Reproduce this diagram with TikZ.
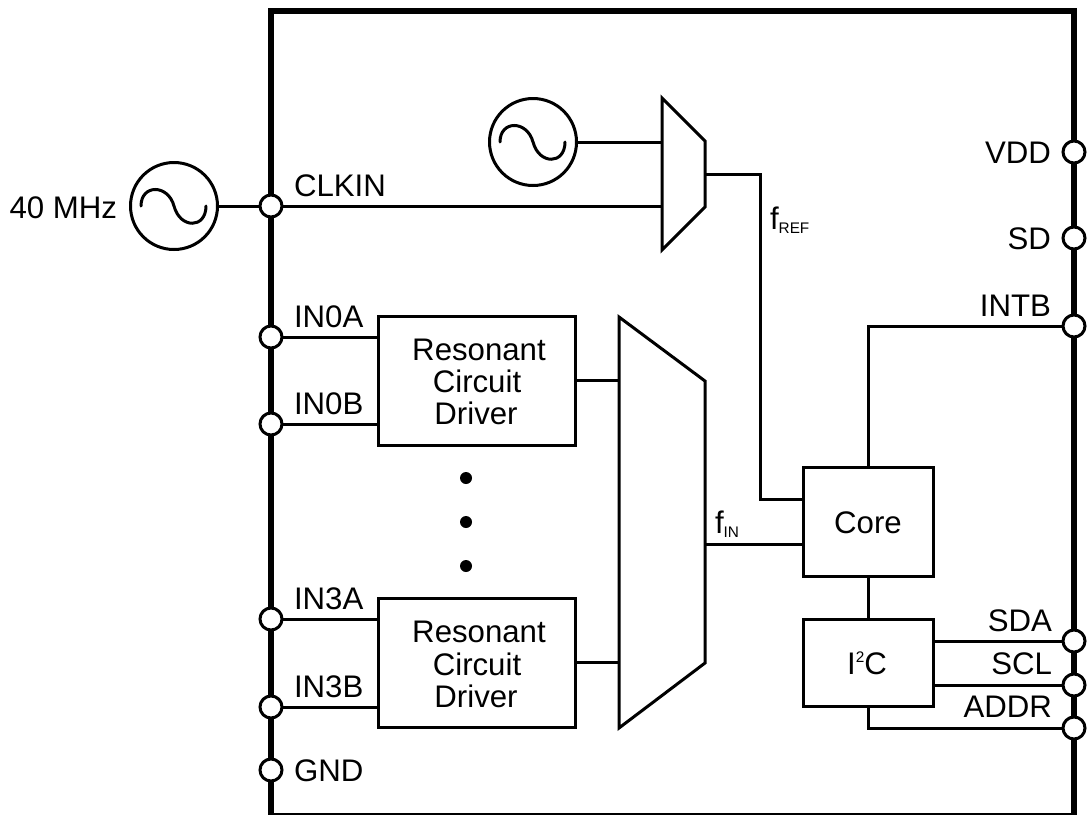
\documentclass[tikz,border=0pt]{standalone}
\usepackage{fontspec}
\setmainfont{Liberation Sans}
\def\u{0.75pt}
\newcommand{\lbl}{\fontsize{23.4}{26}\selectfont}
\newcommand{\subl}[1]{\raisebox{-3pt}{\fontsize{11.5}{13}\selectfont #1}}
\tikzset{
  x=0.75pt,y=-0.75pt,
  wire/.style={line width=2.25pt,line cap=butt,line join=miter},
  frame/.style={line width=4.5pt,line join=miter},
  pin/.style={circle,draw,fill=white,line width=2.25pt,inner sep=0pt,outer sep=0pt,minimum size=22*\u},
  blockbox/.style={rectangle,draw,line width=2.25pt,inner sep=0pt,outer sep=0pt,align=center,font=\lbl},
  osc/.style={circle,draw,line width=2.25pt,inner sep=0pt,outer sep=0pt,minimum size=87*\u},
  txtlabel/.style={inner sep=0pt,outer sep=0pt,font=\lbl},
  dotmark/.style={circle,fill=black,inner sep=0pt,minimum size=12*\u}
}
\begin{document}
\begin{tikzpicture}
\useasboundingbox (0,0) rectangle (1087,814);
% chip outline
\draw[frame] (271,816) -- (271,11) -- (1074,11) -- (1074,816);
\draw[frame] (271,816) -- (1074,816);
% pins
\node[pin] (clk) at (271,206) {};
\node[pin] (ina) at (271,337) {};
\node[pin] (inb) at (271,424) {};
\node[pin] (inc) at (271,619) {};
\node[pin] (ind) at (271,707) {};
\node[pin] (gnd) at (271,770) {};
\node[pin] (vdd) at (1074,152) {};
\node[pin] (sd) at (1074,238) {};
\node[pin] (intb) at (1074,326) {};
\node[pin] (sda) at (1074,641) {};
\node[pin] (scl) at (1074,685) {};
\node[pin] (addr) at (1074,728) {};
% oscillators
\node[osc] (oscext) at (174,206) {};
\node[osc] (oscint) at (533,142) {};
\draw[wire,line cap=round] (141,206) .. controls (141,184) and (168,184) .. (174,206) .. controls (180,229) and (206,229) .. (206,206);
\draw[wire,line cap=round] (500,142) .. controls (500,120) and (527,120) .. (533,142) .. controls (539,165) and (565,165) .. (565,142);
% muxes
\coordinate (m1a) at (662,98);
\coordinate (m1b) at (705,141);
\coordinate (m1c) at (705,207);
\coordinate (m1d) at (662,250);
\coordinate (m1i1) at (662,142);
\coordinate (m1i2) at (662,206);
\coordinate (m1o) at (705,174);
\coordinate (m1t) at (760,174);
\coordinate (m1u) at (760,499);
\draw[wire] (m1a) -- (m1b) -- (m1c) -- (m1d) -- cycle;
\coordinate (m2a) at (619,317);
\coordinate (m2b) at (705,381);
\coordinate (m2c) at (705,663);
\coordinate (m2d) at (619,728);
\coordinate (m2i1) at (619,380.5);
\coordinate (m2i2) at (619,662.5);
\coordinate (m2o) at (705,544);
\draw[wire] (m2a) -- (m2b) -- (m2c) -- (m2d) -- cycle;
% blocks
\node[blockbox,minimum width=197*\u,minimum height=129*\u] (rc1) at (476.5,380.5) {};
\node[blockbox,minimum width=197*\u,minimum height=129*\u] (rc2) at (476.5,662.5) {};
\node[blockbox,minimum width=130*\u,minimum height=109*\u] (core) at (868,521.5) {};
\node[blockbox,minimum width=130*\u,minimum height=87*\u] (i2c) at (868,663) {};
% connectors
\draw[wire] (oscext.east) -- (clk.west);
\draw[wire] (clk.east) -- (m1i2);
\draw[wire] (oscint.east) -- (m1i1);
\draw[wire] (m1o) -- (m1t) -- (m1u) -- (m1u -| core.west);
\draw[wire] (ina.east) -- (ina -| rc1.west);
\draw[wire] (inb.east) -- (inb -| rc1.west);
\draw[wire] (inc.east) -- (inc -| rc2.west);
\draw[wire] (ind.east) -- (ind -| rc2.west);
\draw[wire] (rc1.east) -- (m2i1);
\draw[wire] (rc2.east) -- (m2i2);
\draw[wire] (m2o) -- (m2o -| core.west);
\draw[wire] (core.north) |- (intb.west);
\draw[wire] (core.south) -- (i2c.north);
\draw[wire] (sda.west) -- (sda -| i2c.east);
\draw[wire] (scl.west) -- (scl -| i2c.east);
\draw[wire] (i2c.south) |- (addr.west);
% dots
\node[dotmark] (d1) at (466,478) {};
\node[dotmark] (d2) at (466,522) {};
\node[dotmark] (d3) at (466,566) {};
% block texts
\node[txtlabel,anchor=base] (t1a) at (479,360) {Resonant};
\node[txtlabel,anchor=base] (t1b) at (477,392) {Circuit};
\node[txtlabel,anchor=base] (t1c) at (476,424) {Driver};
\node[txtlabel,anchor=base] (t2a) at (479,642) {Resonant};
\node[txtlabel,anchor=base] (t2b) at (477,675) {Circuit};
\node[txtlabel,anchor=base] (t2c) at (476,707) {Driver};
\node[txtlabel,anchor=base] (tcore) at (868,533) {Core};
\node[txtlabel,anchor=base] (ti2c) at (867,674) {I\raisebox{9pt}{\fontsize{11.5}{13}\selectfont 2}C};
% pin labels
\node[txtlabel,anchor=base east] (l40) at (117,218) {40 MHz};
\node[txtlabel,anchor=base west] (lclk) at (294,196) {CLKIN};
\node[txtlabel,anchor=base west] (lina) at (294,327) {IN0A};
\node[txtlabel,anchor=base west] (linb) at (294,414) {IN0B};
\node[txtlabel,anchor=base west] (linc) at (294,609) {IN3A};
\node[txtlabel,anchor=base west] (lind) at (294,697) {IN3B};
\node[txtlabel,anchor=base west] (lgnd) at (294,781) {GND};
\node[txtlabel,anchor=base east] (lvdd) at (1051,163) {VDD};
\node[txtlabel,anchor=base east] (lsd) at (1051,249) {SD};
\node[txtlabel,anchor=base east] (lintb) at (1051,316) {INTB};
\node[txtlabel,anchor=base east] (lsda) at (1052,631) {SDA};
\node[txtlabel,anchor=base east] (lscl) at (1052,674) {SCL};
\node[txtlabel,anchor=base east] (laddr) at (1052,717) {ADDR};
\node[txtlabel,anchor=base west] (lref) at (770,229) {f\subl{REF}};
\node[txtlabel,anchor=base west] (lin) at (715,533) {f\subl{IN}};
\end{tikzpicture}
\end{document}
